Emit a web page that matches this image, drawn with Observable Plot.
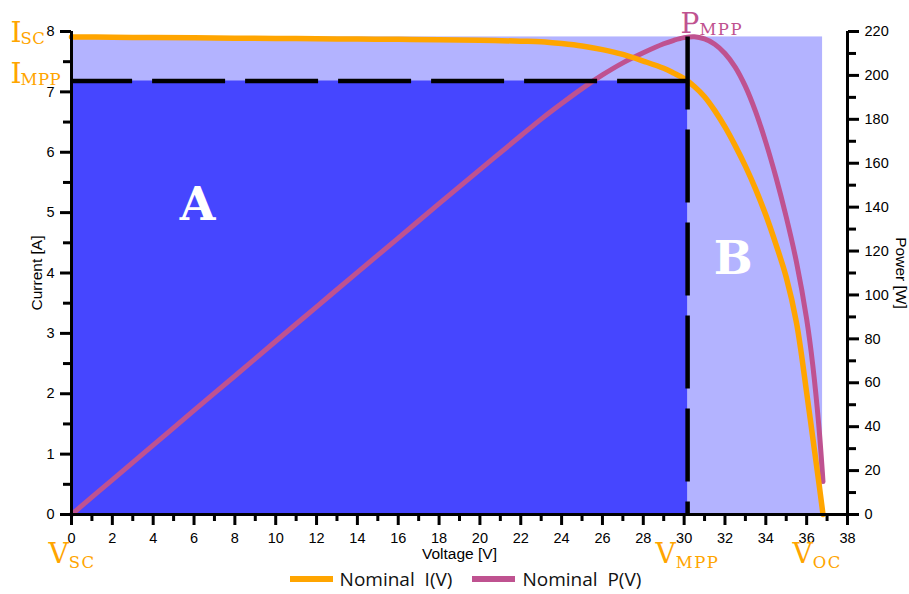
<!DOCTYPE html>
<html><head><meta charset="utf-8">
<script src="https://cdn.jsdelivr.net/npm/d3@7"></script>
<script src="https://cdn.jsdelivr.net/npm/@observablehq/plot@0.6"></script>
<style>
body{margin:0;background:#fff;width:909px;height:594px;overflow:hidden;font-family:"Liberation Sans",Arial,sans-serif;}
#legend{display:flex;justify-content:center;align-items:center;height:34px;margin-left:22px;font-family:"Open Sans",sans-serif;font-size:19px;color:#111;}
.item{display:flex;align-items:center;margin:0 10px;white-space:pre;}
.sw{width:43px;height:6px;margin-right:7px;}
</style></head><body><div id="chart"></div><div id="legend"></div>
<script>
// ---- data ----
const voltage = [0,2,4,6,8,10,12,14,16,18,20,22,23,24,25,26,27,28,29,29.5,30,30.5,31,31.5,32,32.5,33,33.5,34,34.5,35,35.5,36,36.3,36.6,36.8];
const current = [7.91,7.905,7.90,7.895,7.89,7.885,7.88,7.875,7.87,7.865,7.855,7.84,7.83,7.80,7.76,7.70,7.62,7.51,7.39,7.31,7.22,7.09,6.92,6.69,6.42,6.11,5.77,5.39,4.96,4.47,3.93,3.18,2.02,1.27,0.52,0];
const power   = [0,15.8,31.6,47.4,63.1,78.9,94.6,110.3,125.9,141.6,157.1,172.5,180.1,187.2,194.0,200.2,205.7,210.3,214.4,216.0,217.2,217.6,216.6,214.2,210.0,203.8,195.0,183.5,169.5,153.5,135.5,115.0,89.0,68.0,40.0,15.0];
const Isc = 7.91, Impp = 7.18, Vmpp = 30.17, Voc = 36.78, Pmpp = 217.6;
const xTicks = [0,2,4,6,8,10,12,14,16,18,20,22,24,26,28,30,32,34,36,38];
const xMinor = [1,3,5,7,9,11,13,15,17,19,21,23,25,27,29,31,33,35,37];
const iTicks = [0,1,2,3,4,5,6,7,8];
const iMinor = [0.5,1.5,2.5,3.5,4.5,5.5,6.5,7.5];
const pTicks = [0,20,40,60,80,100,120,140,160,180,200,220];
const pMinor = [10,30,50,70,90,110,130,150,170,190,210];
const seriesNames = ["Nominal  I(V)", "Nominal  P(V)"];
const pointLabels = ["I|SC","I|MPP","V|SC","V|MPP","V|OC","P|MPP"];
const regionLabels = ["A","B"];

// ---- styles ----
const ORANGE = "#FFA500", PURPLE = "#BF5290", DARK = "#4646FF", LIGHT = "#B3B3FF";
const pToI = p => p * 8 / 220;   // right axis: 220 W at 8 A
const rows = voltage.map((v,i) => ({V:v, I:current[i], P:power[i]}));
const serif = "DejaVu Serif";

const lblMark = (label, x, y, dx, dy, fill) => Plot.text([{x, y}], {x:"x", y:"y", text: () => label, dx, dy,
  textAnchor:"start", lineAnchor:"bottom", fill, fontFamily: serif, fontSize: 28});

const svg = Plot.plot({
  width: 909, height: 562,
  marginLeft: 71, marginRight: 62, marginTop: 31, marginBottom: 48,
  style: {fontFamily: '"Liberation Sans", Arial, sans-serif', fontSize: "14px", background: "white", overflow: "visible"},
  x: {domain: [0, 38]},
  y: {domain: [0, 8]},
  marks: [
    Plot.rect([{x1:0, x2:Voc, y1:0, y2:Isc}], {x1:"x1", x2:"x2", y1:"y1", y2:"y2", fill: LIGHT}),
    Plot.rect([{x1:0, x2:Vmpp, y1:0, y2:Impp}], {x1:"x1", x2:"x2", y1:"y1", y2:"y2", fill: DARK}),
    Plot.line(rows, {x:"V", y: d => pToI(d.P), stroke: PURPLE, strokeWidth: 5, curve: "catmull-rom"}),
    Plot.line(rows, {x:"V", y:"I", stroke: ORANGE, strokeWidth: 5.5, curve: "catmull-rom"}),
    Plot.ruleY([Impp], {x1: Vmpp, x2: 0, stroke: "black", strokeWidth: 4.5, strokeDasharray: "73,20", strokeDashoffset: 3}),
    Plot.ruleX([Vmpp], {y1: Isc, y2: 0, stroke: "black", strokeWidth: 4.5, strokeDasharray: "73,20"}),
    // axis lines
    Plot.ruleY([0], {stroke: "black", strokeWidth: 3}),
    Plot.ruleX([0, 38], {stroke: "black", strokeWidth: 3}),
    // axes
    Plot.axisX({ticks: xTicks, tickSize: 11, tickPadding: 7, strokeWidth: 3, label: null, fontSize: 14.5}),
    Plot.axisX({ticks: xMinor, tickSize: 7, tickFormat: () => "", strokeWidth: 3, label: null}),
    Plot.axisY({anchor: "left", ticks: iTicks, tickSize: 11, tickPadding: 6, strokeWidth: 3, label: null, fontSize: 14.5}),
    Plot.axisY({anchor: "left", ticks: iMinor, tickSize: 8, tickFormat: () => "", strokeWidth: 3, label: null}),
    Plot.axisY({anchor: "right", ticks: pTicks.map(pToI), tickFormat: d => Math.round(d * 220 / 8), tickSize: 11, tickPadding: 6, strokeWidth: 3, label: null, fontSize: 14.5}),
    Plot.axisY({anchor: "right", ticks: pMinor.map(pToI), tickSize: 8, tickFormat: () => "", strokeWidth: 3, label: null}),
    // axis titles
    Plot.text(["Current [A]"], {frameAnchor: "left", dx: -34, rotate: -90, textAnchor: "middle", lineAnchor: "middle", fontSize: 15.5}),
    Plot.text(["Voltage [V]"], {frameAnchor: "bottom", dy: 40, textAnchor: "middle", lineAnchor: "middle", fontSize: 15.5}),
    Plot.text(["Power [W]"], {frameAnchor: "right", dx: 53, rotate: 90, textAnchor: "middle", lineAnchor: "middle", fontSize: 15.5}),
    // annotations
    lblMark(pointLabels[0], 0, Isc, -61, 5.5, ORANGE),
    lblMark(pointLabels[1], 0, Impp, -61, 2, ORANGE),
    lblMark(pointLabels[2], 0, 0, -23, 48, ORANGE),
    lblMark(pointLabels[3], Vmpp, 0, -32, 48, ORANGE),
    lblMark(pointLabels[4], Voc, 0, -30, 48, ORANGE),
    lblMark(pointLabels[5], Vmpp, pToI(Pmpp), -7, -4, PURPLE),
    Plot.text([regionLabels[0]], {x: () => 6.17, y: () => 5.13, fill: "white", fontFamily: serif, fontWeight: "bold", fontSize: 46}),
    Plot.text([regionLabels[1]], {x: () => 32.4, y: () => 4.22, fill: "white", fontFamily: serif, fontWeight: "bold", fontSize: 46})
  ]
});

// subscripts
d3.select(svg).selectAll("text").each(function() {
  const t = this.textContent;
  if (!t.includes("|")) return;
  const [a, b] = t.split("|");
  const sel = d3.select(this);
  sel.text("");
  sel.append("tspan").text(a);
  sel.append("tspan").attr("font-size", 16.5).attr("letter-spacing", a === "I" ? 0.5 : 1.5)
    .attr("dx", a === "I" ? -1 : 0).attr("dy", a === "V" ? 5 : 2).text(b);
});

document.getElementById("chart").appendChild(svg);

const legend = d3.select("#legend");
[ORANGE, PURPLE].forEach((c, i) => {
  const it = legend.append("div").attr("class", "item");
  it.append("div").attr("class", "sw").style("background", c);
  it.append("span").text(seriesNames[i]);
});
</script></body></html>
